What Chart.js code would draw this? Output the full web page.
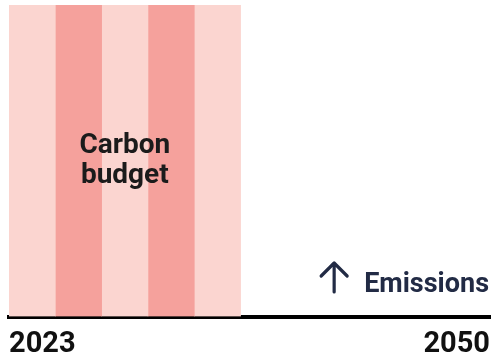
<!DOCTYPE html>
<html>
<head>
<meta charset="utf-8">
<script src="https://cdn.jsdelivr.net/npm/chart.js@4/dist/chart.umd.min.js"></script>
<style>
  html, body { margin: 0; padding: 0; background: #ffffff; }
  #wrap { width: 492px; height: 357px; }
</style>
</head>
<body>
<div id="wrap"><canvas id="chart"></canvas></div>
<script>
// Carbon budget periods, as year ranges along the timeline
const budgetStart = [2023, 2025.6, 2028.2, 2030.8, 2033.4];
const budgetEnd   = [2025.6, 2028.2, 2030.8, 2033.4, 2036];
const timelineYears = [2023, 2050];
const budgetLabel = ['Carbon', 'budget'];
const trendLabel = 'Emissions';
const rowLabels = ['budget'];

const lightPink = '#fbd5d0';
const darkPink = '#f5a19c';

const datasets = budgetStart.map((s, i) => ({
  label: 'Period ' + (i + 1),
  data: [[s, budgetEnd[i]]],
  backgroundColor: i % 2 === 0 ? lightPink : darkPink,
  borderWidth: 0,
  barPercentage: 1,
  categoryPercentage: 1,
  grouped: false
}));

// Text labels drawn on top of the bars
const labelsPlugin = {
  id: 'overlayLabels',
  afterDatasetsDraw(chart) {
    const { ctx, chartArea, scales } = chart;
    const x = scales.x;
    ctx.save();
    // "Carbon budget" centred over the budget stripes
    const cx = (x.getPixelForValue(budgetStart[0]) + x.getPixelForValue(budgetEnd[budgetEnd.length - 1])) / 2;
    ctx.fillStyle = '#1b1b1b';
    ctx.font = 'bold 28px Roboto';
    ctx.textAlign = 'center';
    ctx.textBaseline = 'alphabetic';
    ctx.fillText(budgetLabel[0], cx, 153);
    ctx.fillText(budgetLabel[1], cx, 183);

    // "↑ Emissions" at the lower right
    const navy = '#222b45';
    ctx.fillStyle = navy;
    ctx.textAlign = 'right';
    ctx.font = 'bold 27px Roboto';
    const tx = chartArea.right - 1;
    const ty = 292;
    ctx.fillText(trendLabel, tx, ty);
    const w = ctx.measureText(trendLabel).width;
    const ax = tx - w - 30;
    ctx.strokeStyle = navy;
    ctx.lineWidth = 3.2;
    ctx.lineCap = 'round';
    ctx.lineJoin = 'round';
    ctx.beginPath();
    ctx.moveTo(ax, ty);
    ctx.lineTo(ax, ty - 29);
    ctx.moveTo(ax - 13, ty - 16);
    ctx.lineTo(ax, ty - 29);
    ctx.lineTo(ax + 13, ty - 16);
    ctx.stroke();
    ctx.restore();
  }
};

new Chart(document.getElementById('chart'), {
  type: 'bar',
  data: { labels: rowLabels, datasets },
  options: {
    indexAxis: 'y',
    responsive: true,
    maintainAspectRatio: false,
    animation: false,
    layout: { padding: { top: 5, left: 9, right: 2, bottom: 0 } },
    plugins: { legend: { display: false }, tooltip: { enabled: false } },
    scales: {
      x: {
        type: 'linear',
        min: timelineYears[0],
        max: timelineYears[timelineYears.length - 1],
        z: 1,
        grid: { display: false, drawTicks: false },
        border: { display: true, color: '#000000', width: 4 },
        afterBuildTicks(scale) {
          scale.ticks = timelineYears.map(v => ({ value: v }));
        },
        afterFit(scale) {
          scale.height = 40.5;
          scale.paddingLeft = 0;
          scale.paddingRight = 0;
        },
        ticks: {
          align: 'inner',
          padding: 14,
          color: '#111111',
          font: { family: 'Roboto', size: 29, weight: 'bold', lineHeight: 1 },
          callback: v => String(v)
        }
      },
      y: { display: false }
    }
  },
  plugins: [labelsPlugin]
});
</script>
</body>
</html>
